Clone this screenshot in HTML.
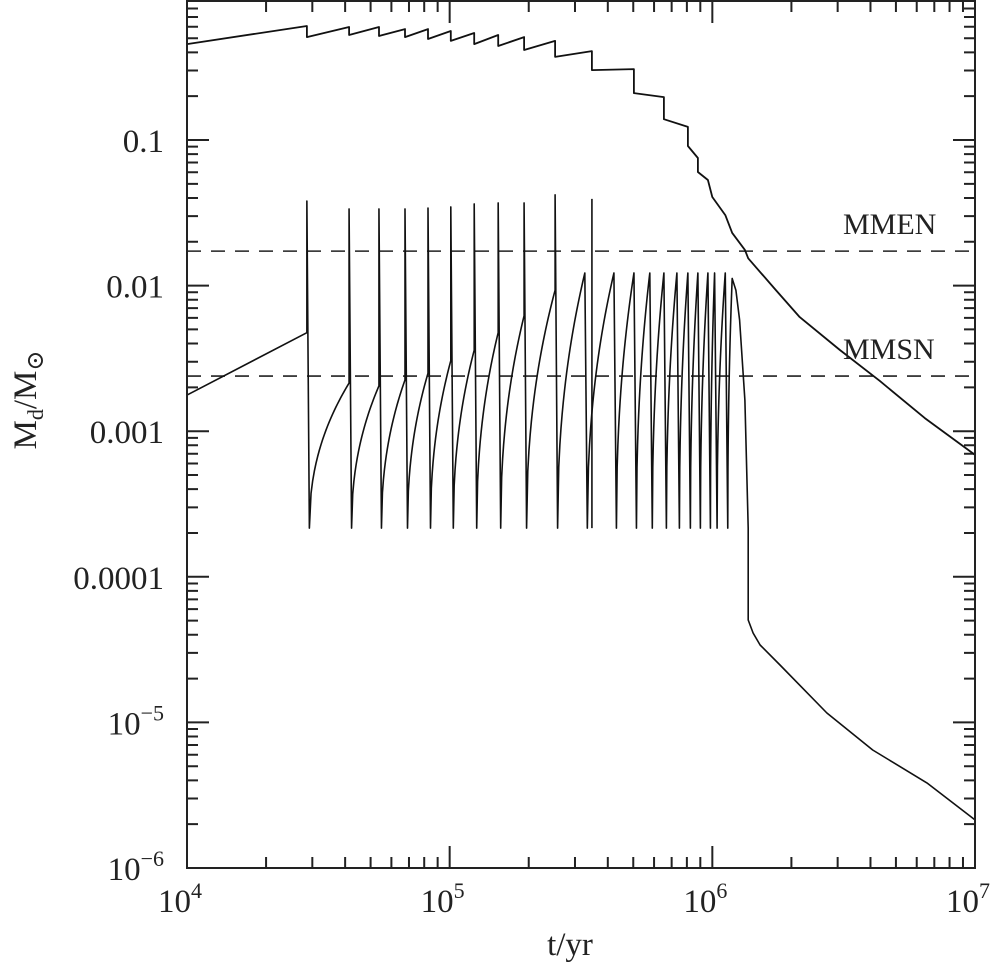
<!DOCTYPE html>
<html><head><meta charset="utf-8">
<style>
html,body{margin:0;padding:0;background:#fff;}
svg{display:block;font-family:"Liberation Serif","DejaVu Serif",serif;}
</style></head>
<body>
<svg id="chart" width="1001" height="964" viewBox="0 0 1001 964" xmlns="http://www.w3.org/2000/svg">
<g id="ticks"></g>
<g id="labels"></g>
<g id="series"></g>
<rect x="187" y="1" width="788" height="867" fill="none" stroke="#222" stroke-width="2"/>
<text x="570" y="955" font-size="33" text-anchor="middle" fill="#222">t/yr</text>
<g transform="translate(36,400) rotate(-90)">
<text x="0" y="0" font-size="33" text-anchor="middle" fill="#222">M<tspan font-size="22" dy="7">d</tspan><tspan dy="-7">/M</tspan><tspan font-size="24" dy="7">⊙</tspan></text>
</g>
<text x="843" y="234" font-size="30" fill="#222">MMEN</text>
<text x="843" y="359" font-size="30" fill="#222">MMSN</text>
</svg>
<script>
// ---- data ----
const xTickDecades = [4,5,6,7];
const yTickLabels = ["0.1","0.01","0.001","0.0001","10^-5","10^-6"];
const yTickValues = [0.1,0.01,0.001,0.0001,1e-5,1e-6];
const refNames = ["MMEN","MMSN"];
const refValues = [0.01725,0.00239];
// upper curve
const upperT = [1e4,2.86e4,2.86e4,4.14e4,4.14e4,5.38e4,5.38e4,6.76e4,6.76e4,8.27e4,8.27e4,1.01e5,1.01e5,1.24e5,1.24e5,1.53e5,1.53e5,1.92e5,1.92e5,2.52e5,2.52e5,3.48e5,3.48e5,5.03e5,5.03e5,6.54e5,6.54e5,8.07e5,8.07e5,8.81e5,8.81e5,9.62e5,1.0e6,1.12e6,1.19e6,1.33e6,1.37e6,1.73e6,2.15e6,3.06e6,4.35e6,6.44e6,1e7];
const upperM = [0.456,0.607,0.509,0.597,0.526,0.597,0.518,0.578,0.509,0.578,0.494,0.561,0.479,0.543,0.456,0.526,0.442,0.509,0.415,0.479,0.372,0.408,0.302,0.307,0.210,0.197,0.139,0.123,0.0909,0.0752,0.0603,0.0531,0.0406,0.0305,0.0230,0.0176,0.0154,0.00948,0.00608,0.00361,0.00221,0.00123,0.000687];
// disk curve: outburst cycles
const cycleT = [2.86e4,4.14e4,5.38e4,6.76e4,8.27e4,1.01e5,1.24e5,1.53e5,1.92e5,2.52e5,3.27e5,4.22e5,5.03e5,5.78e5,6.54e5,7.33e5,8.07e5,8.81e5,9.62e5,1.02e6,1.12e6,1.19e6];
const cyclePeak = [4.75e-3,2.14e-3,2.05e-3,2.25e-3,2.5e-3,3.05e-3,3.6e-3,4.75e-3,6.2e-3,9.3e-3,0.0122,0.0122,0.0122,0.0122,0.0122,0.0122,0.0122,0.0122,0.0122,0.0122,0.0122,0.0112];
const cycleTop = [0.0381,0.0336,0.0336,0.0336,0.0341,0.0347,0.0364,0.037,0.037,0.042,0,0,0,0,0,0,0,0,0,0,0,0];
const diskMin = 2.16e-4;
const diskStartT = [1e4]; const diskStartM = [1.77e-3];
const extraSpikeT = [3.48e5]; const extraSpikeTop = [0.0394];
const tailT = [1.23e6,1.27e6,1.33e6,1.37e6,1.37e6,1.43e6,1.52e6,1.81e6,2.73e6,4.08e6,6.56e6,1e7];
const tailM = [9.3e-3,5.8e-3,1.63e-3,2.16e-4,5.05e-5,4.11e-5,3.4e-5,2.48e-5,1.16e-5,6.46e-6,3.84e-6,2.14e-6];

// ---- axes ----
const X0=187,X1=975,Y0=1,Y1=868;
const dec=(X1-X0)/3;
function xs(t){return X0+dec*Math.log10(t/1e4);}
const ydec=145.6;
function ys(m){return 140+ydec*Math.log10(0.1/m);}
const NS="http://www.w3.org/2000/svg";
function mk(tag,attrs,parent){const e=document.createElementNS(NS,tag);for(const k in attrs)e.setAttribute(k,attrs[k]);parent.appendChild(e);return e;}
const tg=document.getElementById('ticks'),lg=document.getElementById('labels'),sg=document.getElementById('series');
let td="";
for(let d=0;d<3;d++){for(let k=1;k<=10;k++){const t=k*Math.pow(10,4+d);const x=xs(t);const L=(k===1||k===10)?22:11;
 td+=`M${x},${Y1}v${-L}M${x},${Y0}v${L}`;}}
for(let d=0;d<6;d++){for(let k=1;k<=10;k++){const m=k*Math.pow(10,-6+d);const y=ys(m);if(y<Y0)continue;const L=(k===1||k===10)?22:11;
 td+=`M${X0},${y}h${L}M${X1},${y}h${-L}`;}}
const tp=mk('path',{d:td,stroke:'#222','stroke-width':2,fill:'none'},tg);


xTickDecades.forEach(d=>{
 const t=mk('text',{x:xs(Math.pow(10,d))-7,y:912,'font-size':33,'text-anchor':'middle',fill:'#222'},lg);
 
 
 t.innerHTML='10<tspan font-size="22" dy="-14">'+d+'</tspan>';
});
yTickLabels.forEach((s,i)=>{
 const y=ys(yTickValues[i]);
 const t=mk('text',{x:164,y:y+12,'font-size':33,'text-anchor':'end',fill:'#222'},lg);
 
 
 if(s.indexOf('^')>=0){const p=s.split('^');t.innerHTML=p[0]+'<tspan font-size="22" dy="-14">'+p[1].replace('-','\u2212')+'</tspan>';}
 else t.textContent=s;
});
refValues.forEach((v,i)=>{
 const l=mk('line',{x1:X0,x2:X1,y1:ys(v),y2:ys(v),stroke:'#222','stroke-width':1.6,'stroke-dasharray':'14 10'},sg);
 
 
});
let ud="";upperT.forEach((t,i)=>{ud+=(i?'L':'M')+xs(t).toFixed(1)+','+ys(upperM[i]).toFixed(1);});
const up=mk('path',{d:ud,stroke:'#111','stroke-width':1.8,fill:'none','stroke-linejoin':'round'},sg);


let dd='M'+xs(diskStartT[0])+','+ys(diskStartM[0]);
const ymin=ys(diskMin);
for(let i=0;i<cycleT.length;i++){
 const x=xs(cycleT[i]),yp=ys(cyclePeak[i]);
 dd+='L'+x+','+yp;
 if(i===cycleT.length-1)break;
 if(cycleTop[i]>0)dd+='L'+x+','+ys(cycleTop[i]);
 const x0=x+2.5,x1=xs(cycleT[i+1]),y1=ys(cyclePeak[i+1]);
 dd+='L'+x0+','+ymin;
 const n=24;
 for(let j=1;j<=n;j++){const f=j/n;dd+='L'+(x0+(x1-x0)*f).toFixed(2)+','+(ymin-(ymin-y1)*Math.pow(f,0.45)).toFixed(2);}
}
tailT.forEach((t,i)=>{dd+='L'+xs(t).toFixed(1)+','+ys(tailM[i]).toFixed(1);});
const dp=mk('path',{d:dd,stroke:'#111','stroke-width':1.6,fill:'none','stroke-linejoin':'round'},sg);


extraSpikeT.forEach((t,i)=>{
 const l=mk('line',{x1:xs(t),x2:xs(t),y1:ymin,y2:ys(extraSpikeTop[i]),stroke:'#111','stroke-width':1.6},sg);
 
 
});
</script>
</body></html>
